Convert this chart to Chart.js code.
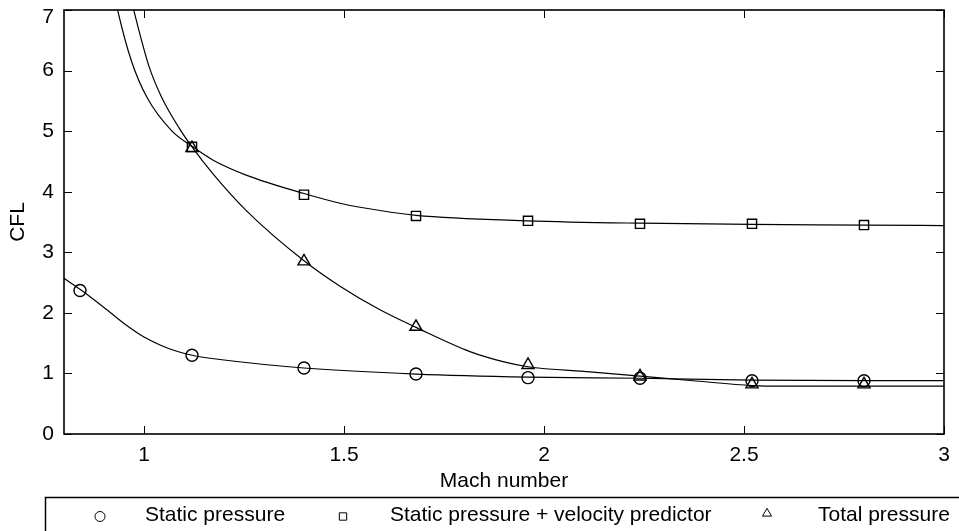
<!DOCTYPE html>
<html>
<head>
<meta charset="utf-8">
<title>CFL versus Mach number</title>
<style>
  html, body { margin: 0; padding: 0; background: #ffffff; }
  #wrap { width: 959px; height: 531px; position: relative; }
  canvas { display: block; }
</style>
<script src="https://cdn.jsdelivr.net/npm/chart.js@4/dist/chart.umd.min.js"></script>
</head>
<body>
<div id="wrap"><canvas id="cfl" width="959" height="531"></canvas></div>
<script>
// ---- data ----------------------------------------------------------------
// Mach numbers at which the stability limit was measured
const machStatic    = [0.84, 1.12, 1.40, 1.68, 1.96, 2.24, 2.52, 2.80];
const machPredictor = [1.12, 1.40, 1.68, 1.96, 2.24, 2.52, 2.80];
const machTotal     = [1.12, 1.40, 1.68, 1.96, 2.24, 2.52, 2.80];

// maximum stable CFL number
const cflStatic    = [2.37, 1.30, 1.09, 0.99, 0.93, 0.92, 0.88, 0.88];
const cflPredictor = [4.74, 3.95, 3.60, 3.52, 3.47, 3.47, 3.45];
const cflTotal     = [4.72, 2.85, 1.77, 1.14, 0.95, 0.82, 0.82];

// fitted trend curves
const fitStaticMach    = [0.80, 0.84, 0.90, 0.957, 1.00, 1.04, 1.08, 1.12, 1.19, 1.40, 1.68, 1.96, 2.24, 2.52, 2.80, 3.00];
const fitStaticCfl     = [2.57, 2.39, 2.09, 1.79, 1.60, 1.47, 1.37, 1.30, 1.23, 1.09, 0.99, 0.94, 0.92, 0.89, 0.88, 0.88];
const fitPredictorMach = [0.92, 0.934, 0.969, 1.008, 1.07, 1.12, 1.173, 1.257, 1.40, 1.49, 1.59, 1.68, 1.96, 2.24, 2.52, 2.80, 3.00];
const fitPredictorCfl  = [7.45, 7.00, 6.15, 5.55, 5.00, 4.75, 4.52, 4.27, 3.97, 3.81, 3.69, 3.61, 3.52, 3.48, 3.46, 3.45, 3.44];
const fitTotalMach     = [0.965, 0.975, 1.013, 1.044, 1.088, 1.12, 1.173, 1.257, 1.40, 1.49, 1.59, 1.68, 1.815, 1.90, 1.96, 2.115, 2.24, 2.38, 2.52, 2.60, 2.80, 3.00];
const fitTotalCfl      = [7.25, 6.98, 6.06, 5.56, 5.05, 4.74, 4.29, 3.68, 2.86, 2.44, 2.05, 1.76, 1.36, 1.19, 1.11, 1.025, 0.955, 0.875, 0.80, 0.79, 0.79, 0.79];

// axis ticks and labels
const xTickValues = [1, 1.5, 2, 2.5, 3];
const yTickValues = [0, 1, 2, 3, 4, 5, 6, 7];
const seriesNames = ['Static pressure', 'Static pressure + velocity predictor', 'Total pressure'];
const seriesMarkers = ['circle', 'rect', 'triangle'];

// ---- helpers ---------------------------------------------------------------
const pairs = (xs, ys) => xs.map((x, i) => ({ x: x, y: ys[i] }));
const FONT = "'Liberation Sans', Arial, Helvetica, sans-serif";
const FONT_SIZE = 21;
const Y_TOP = yTickValues[yTickValues.length - 1];

function curve(xs, ys) {
  return {
    data: pairs(xs, ys),
    showLine: true,
    pointRadius: 0,
    borderColor: '#000000',
    borderWidth: 1.2,
    cubicInterpolationMode: 'monotone',
    fill: false
  };
}

function markers(xs, ys, style, radius, label) {
  return {
    label: label,
    data: pairs(xs, ys),
    showLine: false,
    pointStyle: style,
    pointRadius: radius,
    pointBorderWidth: 1.4,
    pointBorderColor: '#000000',
    pointBackgroundColor: 'rgba(0,0,0,0)',
    borderColor: '#000000'
  };
}

// box around the plot with inward ticks on all four sides
const framePlugin = {
  id: 'frame',
  afterDraw(chart) {
    const { ctx, chartArea: a, scales } = chart;
    const len = 8;
    ctx.save();
    ctx.strokeStyle = '#000000';
    ctx.lineWidth = 1;
    ctx.beginPath();
    xTickValues.forEach(v => {
      const px = Math.round(scales.x.getPixelForValue(v)) + 0.5;
      ctx.moveTo(px, a.bottom); ctx.lineTo(px, a.bottom - len);
      ctx.moveTo(px, a.top);    ctx.lineTo(px, a.top + len);
    });
    yTickValues.forEach(v => {
      const py = Math.round(scales.y.getPixelForValue(v)) + 0.5;
      ctx.moveTo(a.left, py);  ctx.lineTo(a.left + len, py);
      ctx.moveTo(a.right, py); ctx.lineTo(a.right - len, py);
    });
    ctx.stroke();
    ctx.lineWidth = 1.6;
    ctx.strokeRect(a.left, a.top, a.right - a.left, a.bottom - a.top);

    // the top y label sits just inside the canvas, below its tick
    ctx.fillStyle = '#000000';
    ctx.font = FONT_SIZE + 'px ' + FONT;
    ctx.textAlign = 'right';
    ctx.textBaseline = 'middle';
    ctx.fillText(String(Y_TOP), a.left - 10, scales.y.getPixelForValue(Y_TOP) + 7.5);
    ctx.restore();
  }
};

// boxed legend row under the axis title
const legendPlugin = {
  id: 'boxLegend',
  afterDraw(chart) {
    const { ctx } = chart;
    const markerX = [100, 343, 767];
    const markerR = [5, 5.2, 5.2];
    const textX = [145, 390, 818];
    const rowY = 516.5;
    ctx.save();
    ctx.strokeStyle = '#000000';
    ctx.lineWidth = 1.5;
    ctx.strokeRect(45.5, 497.5, 960, 60);
    ctx.font = FONT_SIZE + 'px ' + FONT;
    ctx.textAlign = 'left';
    ctx.textBaseline = 'alphabetic';
    seriesNames.forEach((name, i) => {
      ctx.fillStyle = 'rgba(0,0,0,0)';
      ctx.strokeStyle = '#000000';
      ctx.lineWidth = 1;
      Chart.helpers.drawPoint(ctx, {
        pointStyle: seriesMarkers[i],
        radius: markerR[i],
        rotation: 0,
        borderWidth: 1
      }, markerX[i], i === 2 ? rowY - 3 : rowY);
      ctx.fillStyle = '#000000';
      ctx.fillText(name, textX[i], 521);
    });
    ctx.restore();
  }
};

// ---- chart -------------------------------------------------------------------
Chart.defaults.font.family = FONT;
Chart.defaults.font.size = FONT_SIZE;
Chart.defaults.color = '#000000';

new Chart(document.getElementById('cfl'), {
  type: 'scatter',
  data: {
    datasets: [
      markers(machStatic, cflStatic, 'circle', 6, seriesNames[0]),
      markers(machPredictor, cflPredictor, 'rect', 6.5, seriesNames[1]),
      markers(machTotal, cflTotal, 'triangle', 7, seriesNames[2]),
      curve(fitStaticMach, fitStaticCfl),
      curve(fitPredictorMach, fitPredictorCfl),
      curve(fitTotalMach, fitTotalCfl)
    ]
  },
  options: {
    responsive: false,
    animation: false,
    devicePixelRatio: 1,
    events: [],
    layout: { padding: { top: 10, right: 15, left: 0, bottom: 0 } },
    plugins: {
      legend: { display: false },
      tooltip: { enabled: false }
    },
    scales: {
      x: {
        type: 'linear',
        min: 0.8,
        max: 3,
        grid: { display: false, drawTicks: false },
        border: { display: false },
        afterBuildTicks(s) { s.ticks = xTickValues.map(v => ({ value: v })); },
        ticks: { padding: 8.4, callback: v => String(v), maxRotation: 0 },
        title: { display: true, text: 'Mach number', padding: { top: 0, bottom: 37.4 } },
        afterFit(s) { s.height = 97; s.paddingLeft = 0; s.paddingRight = 0; }
      },
      y: {
        type: 'linear',
        min: 0,
        max: 7,
        grid: { display: false, drawTicks: false },
        border: { display: false },
        afterBuildTicks(s) { s.ticks = yTickValues.map(v => ({ value: v })); },
        ticks: { padding: 10, callback: v => (v === Y_TOP ? '' : String(v)) },
        title: { display: true, text: 'CFL', padding: { top: 5.4, bottom: 0 } },
        afterFit(s) { s.width = 64; s.paddingTop = 0; s.paddingBottom = 0; }
      }
    }
  },
  plugins: [framePlugin, legendPlugin]
});
</script>
</body>
</html>
